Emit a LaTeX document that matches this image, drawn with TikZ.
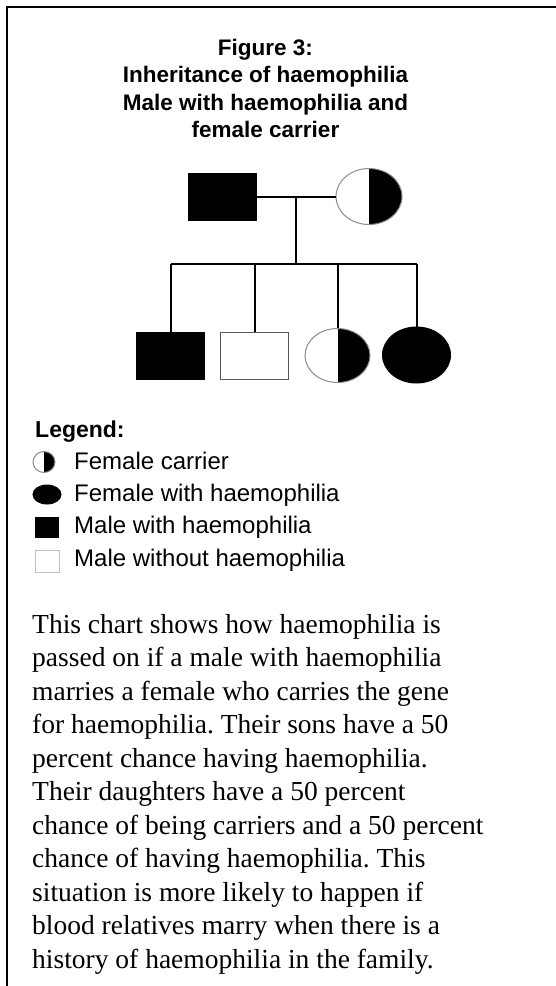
\documentclass[tikz,border=0pt]{standalone}
\usepackage{fontspec}
\setmainfont{Liberation Serif}
\setsansfont{Liberation Sans}
\frenchspacing
\usetikzlibrary{shapes.geometric,positioning,calc}
\tikzset{
  male/.style={draw=black!65,line width=1pt,rectangle,minimum width=68pt,minimum height=47pt,inner sep=0pt},
  female/.style={draw=black!45,line width=1pt,ellipse,minimum width=66pt,minimum height=56pt,inner sep=0pt},
  aff/.style={fill=black,draw=black},
  carrier/.style={path picture={\fill[black] (path picture bounding box.north) rectangle (path picture bounding box.south east);}},
  line/.style={line width=2pt},
  ttl/.style={font=\fontsize{22.5}{27.3}\selectfont\sffamily\bfseries,align=center,inner sep=0pt},
  legh/.style={font=\fontsize{23}{28}\selectfont\sffamily\bfseries,anchor=base west,inner sep=0pt},
  leg/.style={font=\fontsize{24}{28}\selectfont\sffamily,anchor=base west,inner sep=0pt},
  body/.style={font=\fontsize{27.5}{33}\selectfont,anchor=base west,inner sep=0pt},
}
\begin{document}
\begin{tikzpicture}[x=1pt,y=-1pt]
\fill[white] (0,0) rectangle (556,986);
\useasboundingbox (0,0) rectangle (556,986);
% frame
\draw[line width=2pt] (7,986) -- (7,7) -- (556,7);
% title
\node[ttl,anchor=north] (title) at (265.5,39) {Figure 3:\\Inheritance of haemophilia\\Male with haemophilia and\\female carrier};
% parents
\node[male,aff] (dad) at (222,196.5) {};
\node[female,carrier] (mum) at (369,196.5) {};
\coordinate (mid) at ($(dad.east)!0.5!(mum.west)$);
\coordinate (sib) at (296,264);
\draw[line] (dad.east) -- (mum.west);
\draw[line] (mid) -- (sib);
% children
\node[male,aff] (c1) at (170.5,355.5) {};
\node[male] (c2) at (254.5,355.5) {};
\node[female,carrier,minimum width=65pt,minimum height=54pt] (c3) at (337.5,355.5) {};
\node[female,aff,minimum width=68pt] (c4) at (416.5,355) {};
\draw[line] (c1.north |- sib) -- (c4.north |- sib);
\foreach \c in {c1,c2,c3,c4}
  \draw[line] (\c.north |- sib) -- (\c.north);
% legend
\node[legh] (legend) at (35,437) {Legend:};
\node[female,carrier,minimum width=22pt,minimum height=21pt] (lc) at (44,462) {};
\node[female,aff,minimum width=28pt,minimum height=19pt] (lf) at (47,494.5) {};
\node[male,aff,minimum width=23pt,minimum height=20pt] (lm) at (46.5,527) {};
\node[male,draw=black!25,minimum width=24pt,minimum height=22pt] (lw) at (47,561) {};
\node[leg] (tc) at (74,469) {Female carrier};
\node[leg] (tf) at (74,501) {Female with haemophilia};
\node[leg] (tm) at (74,533) {Male with haemophilia};
\node[leg] (tw) at (74,566) {Male without haemophilia};
% text
\foreach \t [count=\i from 0] in {
  This chart shows how haemophilia is,
  passed on if a male with haemophilia,
  marries a female who carries the gene,
  for haemophilia. Their sons have a 50,
  percent chance having haemophilia.,
  Their daughters have a 50 percent,
  chance of being carriers and a 50 percent,
  chance of having haemophilia. This,
  situation is more likely to happen if,
  blood relatives marry when there is a,
  history of haemophilia in the family.}
  \node[body] (b\i) at (32,633+33.5*\i) {\t};
\end{tikzpicture}
\end{document}
